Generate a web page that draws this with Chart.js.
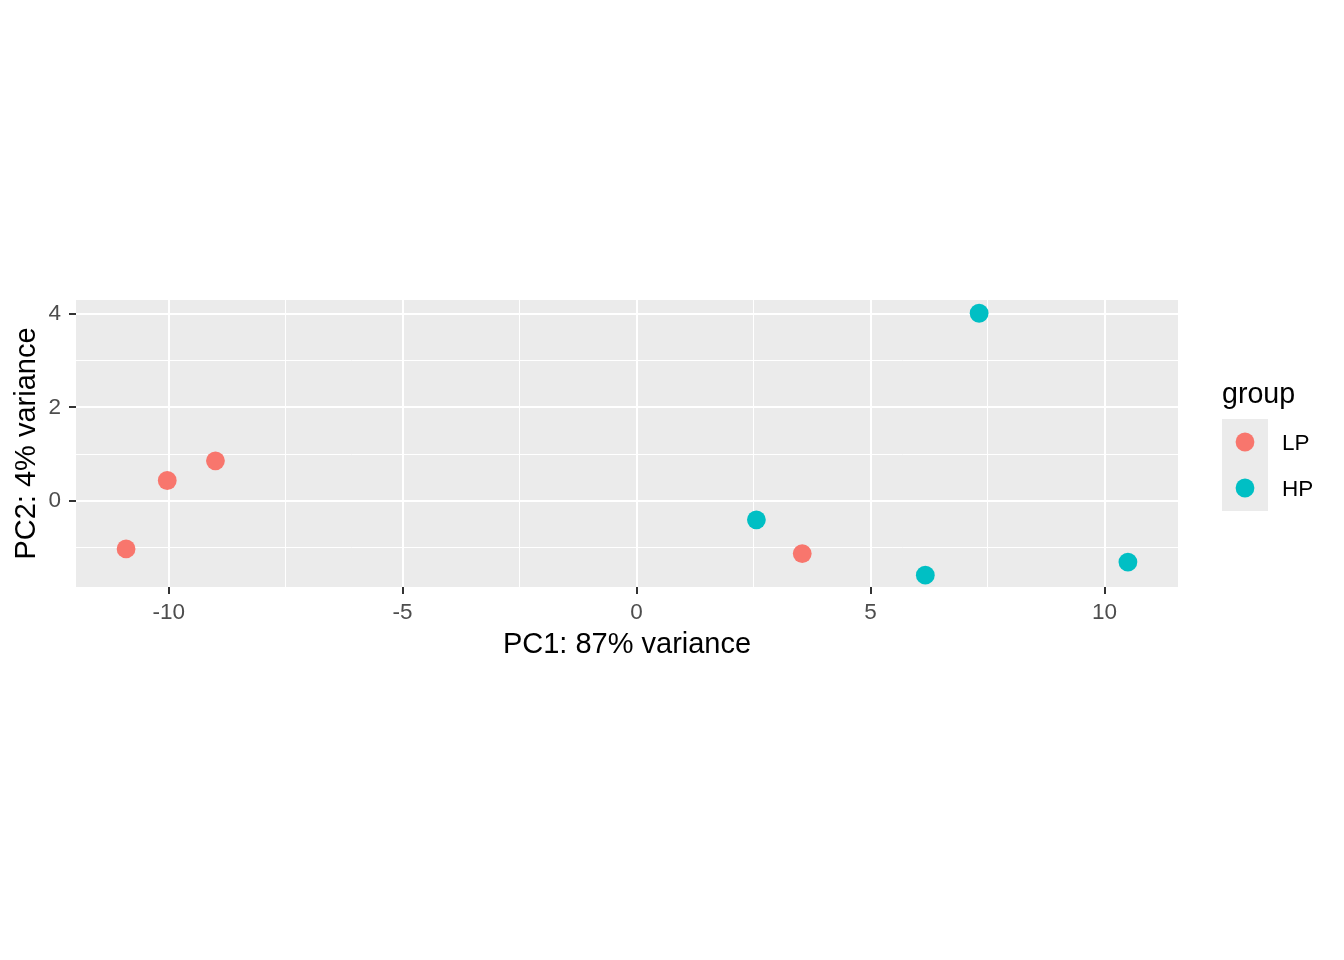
<!DOCTYPE html>
<html>
<head>
<meta charset="utf-8">
<script src="https://cdn.jsdelivr.net/npm/chart.js@4.4.0/dist/chart.umd.min.js"></script>
<style>
html,body{margin:0;padding:0;background:#ffffff;}
#wrap{width:1344px;height:960px;position:relative;}
canvas{display:block;}
</style>
</head>
<body>
<div id="wrap"><canvas id="c" width="1344" height="960"></canvas></div>
<script>
// ---- data ----
const groups = ['LP', 'HP'];
const groupColors = ['#F8766D', '#00BFC4'];
const lpPC1 = [-10.91, -10.03, -9.00, 3.54];
const lpPC2 = [-1.02, 0.44, 0.86, -1.12];
const hpPC1 = [7.32, 2.56, 6.17, 10.50];
const hpPC2 = [4.01, -0.40, -1.58, -1.30];
const xMajorTicks = [-10, -5, 0, 5, 10];
const xMinorTicks = [-7.5, -2.5, 2.5, 7.5];
const yMajorTicks = [0, 2, 4];
const yMinorTicks = [-1, 1, 3];
const xTitle = 'PC1: 87% variance';
const yTitle = 'PC2: 4% variance';
const legendTitle = 'group';

// ---- build ----
const FONT = "'Liberation Sans', Arial, Helvetica, sans-serif";
function pts(xs, ys) { return xs.map((x, i) => ({ x: x, y: ys[i] })); }
const seriesPoints = [pts(lpPC1, lpPC2), pts(hpPC1, hpPC2)];

function isMajor(list, v) { return list.some(m => Math.abs(m - v) < 1e-9); }

const panelBg = {
  id: 'panelBg',
  beforeDraw(chart) {
    const a = chart.chartArea, ctx = chart.ctx;
    ctx.save();
    ctx.fillStyle = '#EBEBEB';
    ctx.fillRect(a.left, a.top, a.right - a.left, a.bottom - a.top);
    ctx.restore();
  }
};

const ggLegend = {
  id: 'ggLegend',
  afterDraw(chart) {
    const ctx = chart.ctx;
    const left = 1222, titleBase = 403, keyTop = 419, keySize = 46;
    ctx.save();
    ctx.fillStyle = '#000000';
    ctx.font = '28.6px ' + FONT;
    ctx.textAlign = 'left';
    ctx.textBaseline = 'alphabetic';
    ctx.fillText(legendTitle, left, titleBase);
    const ds = chart.data.datasets;
    ctx.fillStyle = '#EBEBEB';
    ctx.fillRect(left, keyTop, keySize, keySize * ds.length);
    ds.forEach((d, i) => {
      const cy = keyTop + keySize * i + keySize / 2;
      ctx.beginPath();
      ctx.fillStyle = d.backgroundColor;
      ctx.arc(left + keySize / 2, cy, 9.4, 0, Math.PI * 2);
      ctx.fill();
      ctx.fillStyle = '#000000';
      ctx.font = '22.5px ' + FONT;
      ctx.textBaseline = 'middle';
      ctx.fillText(d.label, 1282, cy + 1.5);
    });
    ctx.restore();
  }
};

const gridOpts = (majors) => ({
  color: '#FFFFFF',
  lineWidth: (ctx) => (ctx.tick && isMajor(majors, ctx.tick.value)) ? 2 : 1,
  tickColor: (ctx) => (ctx.tick && isMajor(majors, ctx.tick.value)) ? '#333333' : 'rgba(0,0,0,0)',
  tickWidth: 2,
  tickLength: 7,
  drawTicks: true,
  drawOnChartArea: true
});

new Chart(document.getElementById('c'), {
  type: 'scatter',
  data: {
    datasets: groups.map((g, i) => ({
      label: g,
      data: seriesPoints[i],
      backgroundColor: groupColors[i],
      borderColor: groupColors[i],
      pointRadius: 9.4,
      pointHoverRadius: 9.4,
      pointBorderWidth: 0,
      borderWidth: 0
    }))
  },
  options: {
    responsive: false,
    animation: false,
    devicePixelRatio: 1,
    layout: { padding: { left: 0, top: 300, right: 166, bottom: 298 } },
    plugins: { legend: { display: false }, tooltip: { enabled: false } },
    scales: {
      x: {
        type: 'linear',
        min: -11.98,
        max: 11.57,
        border: { display: false },
        grid: gridOpts(xMajorTicks),
        afterBuildTicks(scale) {
          scale.ticks = xMajorTicks.concat(xMinorTicks).sort((a, b) => a - b).map(v => ({ value: v }));
        },
        afterFit(scale) { scale.height = 75; },
        ticks: {
          autoSkip: false,
          maxRotation: 0,
          padding: 5,
          color: '#4D4D4D',
          font: { family: FONT, size: 22.5 },
          callback: (v) => isMajor(xMajorTicks, v) ? String(v) : ''
        },
        title: {
          display: true,
          text: xTitle,
          color: '#000000',
          font: { family: FONT, size: 29, lineHeight: 1.2 },
          padding: { top: 0, bottom: 0 }
        }
      },
      y: {
        type: 'linear',
        min: -1.833,
        max: 4.293,
        border: { display: false },
        grid: gridOpts(yMajorTicks),
        afterBuildTicks(scale) {
          scale.ticks = yMajorTicks.concat(yMinorTicks).sort((a, b) => a - b).map(v => ({ value: v }));
        },
        afterFit(scale) { scale.width = 76; },
        ticks: {
          autoSkip: false,
          padding: 8,
          color: '#4D4D4D',
          font: { family: FONT, size: 22.5 },
          callback: (v) => isMajor(yMajorTicks, v) ? String(v) : ''
        },
        title: {
          display: true,
          text: yTitle,
          color: '#000000',
          font: { family: FONT, size: 29, lineHeight: 1.2 },
          padding: { top: 10, bottom: 0 }
        }
      }
    }
  },
  plugins: [panelBg, ggLegend]
});
</script>
</body>
</html>
